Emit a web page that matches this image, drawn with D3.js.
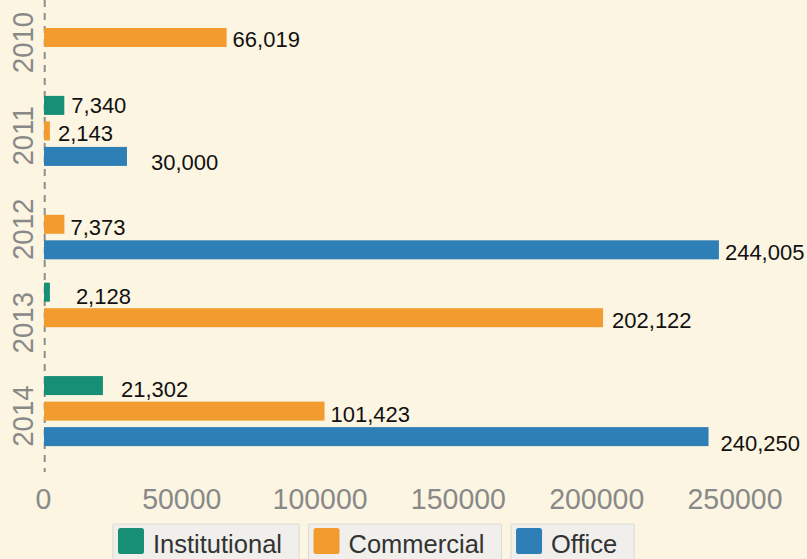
<!DOCTYPE html>
<html>
<head>
<meta charset="utf-8">
<script src="https://cdn.jsdelivr.net/npm/d3@7"></script>
<style>
  html, body { margin: 0; padding: 0; background: #fcf5e2; }
  svg { display: block; }
  text { font-family: "Liberation Sans", Arial, Helvetica, sans-serif; }
</style>
</head>
<body>
<svg id="chart" width="807" height="559"></svg>
<script>
// ---- data ----
const years = ["2010", "2011", "2012", "2013", "2014"];
const seriesNames = ["Institutional", "Commercial", "Office"];
const institutional = [null, 7340, null, 2128, 21302];
const commercial = [66019, 2143, 7373, 202122, 101423];
const office = [null, 30000, 244005, null, 240250];
const xTicks = [0, 50000, 100000, 150000, 200000, 250000];
const colors = ["#178f75", "#f29c2f", "#2f7fb7"];

// label nudges (repelled label placement), [dx, dy] per series per year
const labelNudge = {
  Institutional: [null, [7, -0.5], null, [26, 3.5], [18, 3.5]],
  Commercial: [[6, 2], [8, 2], [6, 2.5], [9, 2], [6, 3]],
  Office: [null, [24, 5.5], [6, 2], null, [12, 7]]
};

const valuesBySeries = { Institutional: institutional, Commercial: commercial, Office: office };

const svg = d3.select("#chart");
svg.append("rect").attr("width", 807).attr("height", 559).attr("fill", "#fcf5e2");

const x = d3.scaleLinear().domain([0, 250000]).range([44, 735.5]);
const y0 = d3.scaleBand().domain(years).range([-9.2, 457.8]).paddingInner(0.25).paddingOuter(0.125);
const y1 = d3.scaleBand().domain(seriesNames).range([0, y0.bandwidth()]).paddingInner(0.255);
const color = d3.scaleOrdinal().domain(seriesNames).range(colors);

// dashed y axis line
svg.append("line")
  .attr("x1", 44.7).attr("x2", 44.7)
  .attr("y1", 0).attr("y2", 472)
  .attr("stroke", "#8e8e8e").attr("stroke-width", 2)
  .attr("stroke-dasharray", "7,6");

// flatten data
const rows = [];
years.forEach((yr, i) => {
  seriesNames.forEach(s => {
    const v = valuesBySeries[s][i];
    if (v != null) rows.push({ year: yr, i, series: s, value: v });
  });
});

// bars
svg.append("g").selectAll("rect").data(rows).join("rect")
  .attr("x", x(0))
  .attr("y", d => y0(d.year) + y1(d.series))
  .attr("width", d => x(d.value) - x(0))
  .attr("height", y1.bandwidth())
  .attr("fill", d => color(d.series));

// value labels
const fmt = d3.format(",");
const labelSize = 22;
svg.append("g").selectAll("text").data(rows).join("text")
  .attr("x", d => x(d.value) + labelNudge[d.series][d.i][0])
  .attr("y", d => y0(d.year) + y1(d.series) + y1.bandwidth() / 2 + labelNudge[d.series][d.i][1] + labelSize * 0.358)
  .attr("font-size", labelSize)
  .attr("fill", "#111")
  .text(d => fmt(d.value));

// year labels (rotated)
svg.append("g").selectAll("text").data(years).join("text")
  .attr("transform", d => `translate(33.3,${y0(d) + y0.bandwidth() / 2 + 5}) rotate(-90) scale(0.92,1)`)
  .attr("text-anchor", "middle")
  .attr("font-size", 30)
  .attr("fill", "#898989")
  .text(d => d);

// x axis tick labels
const xAxis = d3.axisBottom(x).tickValues(xTicks).tickFormat(d3.format("d")).tickSize(0).tickPadding(0);
const gx = svg.append("g").attr("transform", "translate(0,0)").call(xAxis);
gx.select(".domain").remove();
gx.selectAll(".tick text")
  .attr("y", 509)
  .attr("dy", 0)
  .attr("font-size", 30)
  .attr("font-family", "Liberation Sans, Arial, sans-serif")
  .attr("fill", "#898989")
  .attr("transform", function () {
    return "translate(-1,509) scale(0.95,1) translate(0,-509)";
  });

// legend
const legend = svg.append("g");
let lx = 113;
seriesNames.forEach((s, k) => {
  const g = legend.append("g");
  const box = g.append("rect")
    .attr("x", lx).attr("y", 524)
    .attr("height", 45)
    .attr("rx", 1)
    .attr("fill", "#f0efec").attr("stroke", "#dedcd6").attr("stroke-width", 1.2);
  g.append("rect")
    .attr("x", lx + 5).attr("y", 528)
    .attr("width", 26).attr("height", 26)
    .attr("rx", 2.5)
    .attr("fill", colors[k]);
  const t = g.append("text")
    .attr("x", lx + 40).attr("y", 553)
    .attr("font-size", 25.5)
    .attr("fill", "#333")
    .text(s);
  const w = t.node().getComputedTextLength();
  const bw = 40 + w + 17;
  box.attr("width", bw);
  lx += bw + 9.5;
});
</script>
</body>
</html>
